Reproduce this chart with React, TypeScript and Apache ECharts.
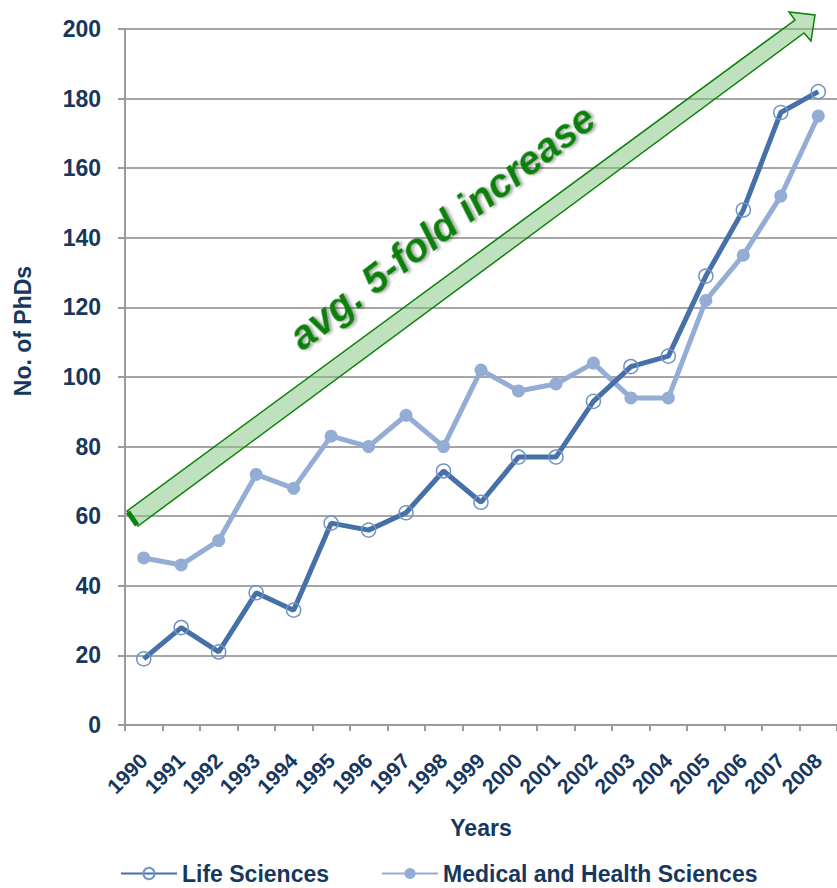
import React, { useEffect, useRef } from "react";
import * as echarts from "echarts";

const years = ["1990","1991","1992","1993","1994","1995","1996","1997","1998","1999","2000","2001","2002","2003","2004","2005","2006","2007","2008"];
const lifeSciences = [19, 28, 21, 38, 33, 58, 56, 61, 73, 64, 77, 77, 93, 103, 106, 129, 148, 176, 182];
const medicalHealth = [48, 46, 53, 72, 68, 83, 80, 89, 80, 102, 96, 98, 104, 94, 94, 122, 135, 152, 175];
const seriesNames = ["Life Sciences", "Medical and Health Sciences"];
const yAxisTitle = "No. of PhDs";
const xAxisTitle = "Years";
const annotationText = "avg. 5-fold increase";

const NAVY = "#17375E";
const FONT = "'Liberation Sans', Arial, sans-serif";

export default function App() {
  const ref = useRef<HTMLDivElement>(null);
  useEffect(() => {
    document.body.style.margin = "0";
    const chart = echarts.init(ref.current!, null, { renderer: "svg" });
    chart.setOption({
      animation: false,
      backgroundColor: "#ffffff",
      textStyle: { fontFamily: FONT },
      grid: { left: 125, right: 0, top: 29, bottom: 163, containLabel: false },
      legend: {
        data: seriesNames,
        left: 120,
        top: 862,
        padding: 0,
        itemWidth: 56,
        itemHeight: 14,
        itemGap: 52,
        textStyle: { fontFamily: FONT, fontWeight: "bold", fontSize: 23, lineHeight: 20, color: NAVY },
      },
      xAxis: {
        type: "category",
        data: years,
        boundaryGap: true,
        name: xAxisTitle,
        nameLocation: "middle",
        nameGap: 91,
        nameTextStyle: { fontFamily: FONT, fontWeight: "bold", fontSize: 23, color: NAVY },
        axisLine: { lineStyle: { color: "#9a9a9a", width: 2 } },
        axisTick: { show: true, length: 6, lineStyle: { color: "#9a9a9a", width: 2 }, alignWithLabel: false },
        axisLabel: { rotate: 45, margin: 32, fontFamily: FONT, fontWeight: "bold", fontSize: 21, color: NAVY, interval: 0 },
      },
      yAxis: {
        type: "value",
        min: 0,
        max: 200,
        interval: 20,
        axisLine: { show: true, lineStyle: { color: "#9a9a9a", width: 2 } },
        axisTick: { show: true, inside: false, length: 7, lineStyle: { color: "#9a9a9a", width: 2 } },
        axisLabel: { margin: 24, fontFamily: FONT, fontWeight: "bold", fontSize: 23, color: NAVY },
        splitLine: { show: true, lineStyle: { color: "#a6a6a6", width: 2 } },
      },
      series: [
        {
          name: seriesNames[1],
          type: "line",
          data: medicalHealth,
          symbol: "circle",
          symbolSize: 13,
          z: 2,
          lineStyle: { color: "#94ADD5", width: 5 },
          itemStyle: { color: "#94ADD5" },
        },
        {
          name: seriesNames[0],
          type: "line",
          data: lifeSciences,
          symbol: "circle",
          symbolSize: 14,
          z: 3,
          lineStyle: { color: "#4570A8", width: 5 },
          itemStyle: { color: "rgba(255,255,255,0)", borderColor: "#7094C6", borderWidth: 1.5 },
        },
      ],
      graphic: [
        {
          type: "text",
          x: 23,
          y: 331,
          rotation: Math.PI / 2,
          style: {
            text: yAxisTitle,
            fill: NAVY,
            font: `bold 23px ${FONT}`,
            align: "center",
            verticalAlign: "middle",
          },
        },
        {
          type: "polygon",
          z: 100,
          shape: {
            points: [
              [127, 511], [795, 20], [789, 12], [815, 15], [811, 41], [804, 33], [138, 526],
            ],
          },
          style: { fill: "rgba(130,195,125,0.5)", stroke: "#0B800B", lineWidth: 1.5 },
        },
        {
          type: "line",
          z: 101,
          shape: { x1: 128, y1: 512, x2: 137, y2: 525 },
          style: { stroke: "#0B800B", lineWidth: 5 },
        },
        {
          type: "text",
          z: 102,
          x: 442,
          y: 227,
          rotation: 0.655,
          style: {
            text: annotationText,
            fill: "#0F7F0F",
            font: `italic bold 40px ${FONT}`,
            align: "center",
            verticalAlign: "middle",
            textShadowColor: "rgba(0,0,0,0.35)",
            textShadowBlur: 3,
            textShadowOffsetX: 2,
            textShadowOffsetY: 2,
          },
        },
      ],
    });
    return () => chart.dispose();
  }, []);
  return <div ref={ref} style={{ width: 837, height: 888 }} />;
}
